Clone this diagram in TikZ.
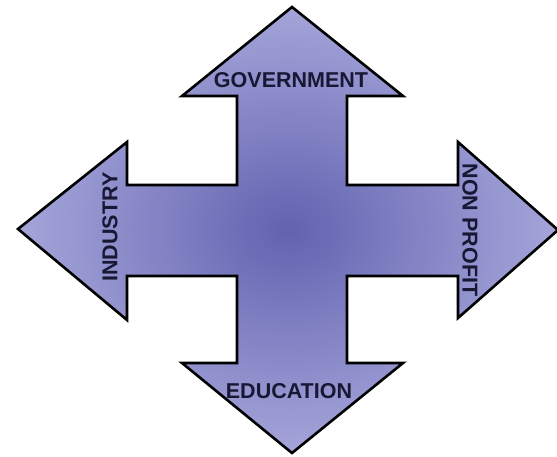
\documentclass[tikz,border=0pt]{standalone}
\usepackage{fontspec}
\setmainfont{Liberation Sans}
\definecolor{innerblue}{RGB}{98,98,176}
\definecolor{outerblue}{RGB}{165,165,218}
\definecolor{labelnavy}{RGB}{24,24,52}
\tikzset{
  crossshape/.style={draw=black, line width=2.6pt, line join=miter, inner color=innerblue, outer color=outerblue},
  armlabel/.style={font=\fontsize{21.5}{21.5}\selectfont\bfseries, text=labelnavy, inner sep=0pt}
}
\begin{document}
\begin{tikzpicture}[x=1pt,y=-1pt]
\useasboundingbox (0,0) rectangle (557,456);
\shade[crossshape] (292,7) -- (403,96) -- (347,96) -- (347,185) -- (458,185) -- (458,142) -- (558,230) -- (458,318) -- (458,276) -- (347,276) -- (347,363) -- (403,363) -- (292,453) -- (182,363) -- (237,363) -- (237,276) -- (127,276) -- (127,320) -- (18,229) -- (127,142) -- (127,185) -- (237,185) -- (237,96) -- (182,96) -- cycle;
\node[armlabel] (gov) at (291,80) {GOVERNMENT};
\node[armlabel, rotate=90] (ind) at (110,227) {INDUSTRY};
\node[armlabel, rotate=-90] (np) at (470,230) {NON PROFIT};
\node[armlabel] (edu) at (289,391) {EDUCATION};
\end{tikzpicture}
\end{document}
